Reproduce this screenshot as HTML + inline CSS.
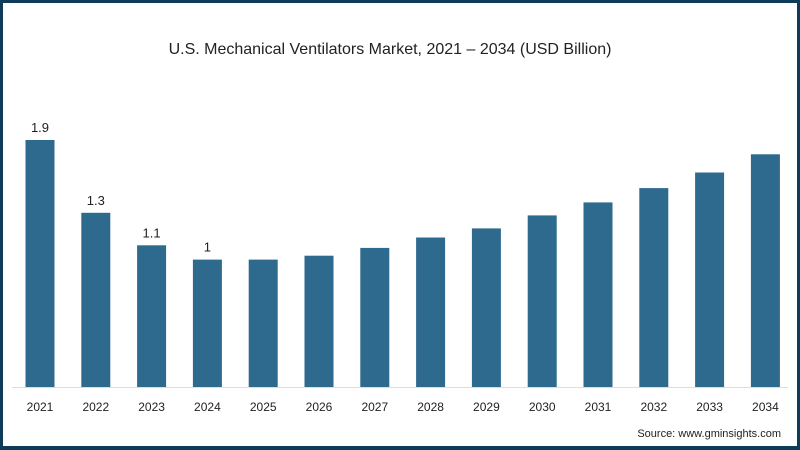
<!DOCTYPE html>
<html><head><meta charset="utf-8"><style>
html,body{margin:0;padding:0;background:#fff}
#wrap{position:relative;width:800px;height:450px;box-sizing:border-box;border:3px solid #0e3c58;border-bottom-width:4px;background:#fff;font-family:"Liberation Sans",sans-serif;overflow:hidden}
svg{position:absolute;left:-3px;top:-3px}
</style></head><body>
<div id="wrap">
<svg id="chart" width="800" height="450">
<text x="390" y="54" text-anchor="middle" font-size="16" fill="#222">U.S. Mechanical Ventilators Market, 2021 – 2034 (USD Billion)</text>
<line x1="12" x2="788" y1="387.5" y2="387.5" stroke="#ddd" stroke-width="1"/>
<text x="781" y="437" text-anchor="end" font-size="11" fill="#222">Source: www.gminsights.com</text>
</svg>
</div>
<script>
const categories=["2021","2022","2023","2024","2025","2026","2027","2028","2029","2030","2031","2032","2033","2034"];
const values=[1.9,1.34,1.09,0.98,0.98,1.01,1.07,1.15,1.22,1.32,1.42,1.53,1.65,1.79];
const labels=["1.9","1.3","1.1","1","","","","","","","","","",""];
const svg=document.getElementById('chart');
const NS='http://www.w3.org/2000/svg';
const base=387, pxPerUnit=130, x0=40, step=55.8, bw=29;
function xs(i){return x0+i*step;}
function ys(v){return base-v*pxPerUnit;}
categories.forEach((c,i)=>{
  const r=document.createElementNS(NS,'rect');
  r.setAttribute('x',xs(i)-bw/2);r.setAttribute('y',ys(values[i]));
  r.setAttribute('width',bw);r.setAttribute('height',base-ys(values[i]));
  r.setAttribute('fill','#2e6a8e');
  
  
  svg.appendChild(r);
  const t=document.createElementNS(NS,'text');
  t.setAttribute('x',xs(i));t.setAttribute('y',411);t.setAttribute('text-anchor','middle');
  t.setAttribute('font-size','12');t.setAttribute('fill','#222');t.textContent=c;
  
  
  svg.appendChild(t);
  if(labels[i]){
    const l=document.createElementNS(NS,'text');
    l.setAttribute('x',xs(i));l.setAttribute('y',ys(values[i])-8);l.setAttribute('text-anchor','middle');
    l.setAttribute('font-size','13');l.setAttribute('fill','#222');l.textContent=labels[i];
    
    
    svg.appendChild(l);
  }
});
</script>
</body></html>
